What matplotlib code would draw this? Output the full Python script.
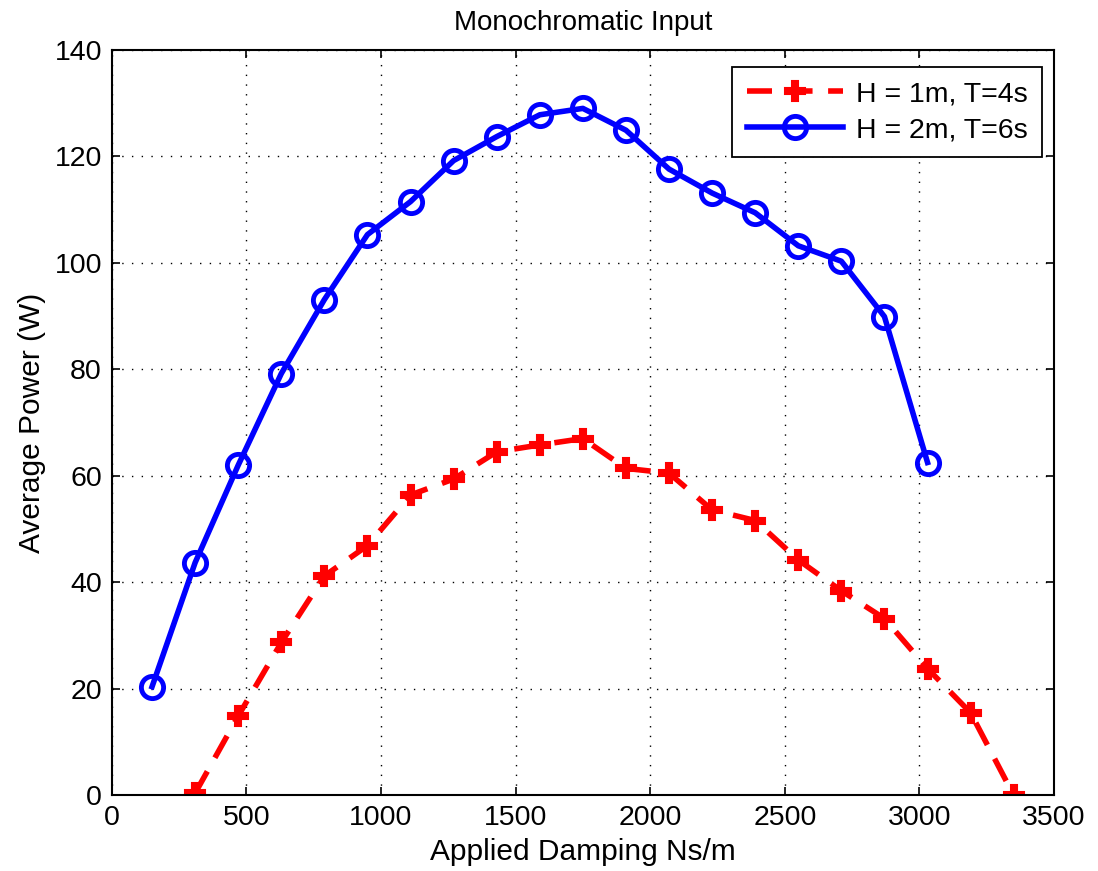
import matplotlib
matplotlib.use("Agg")
import matplotlib.pyplot as plt

plt.rcParams['font.family'] = ['Liberation Sans', 'DejaVu Sans']

# Data
damping_2m = [150, 310, 470, 630, 790, 950, 1110, 1270, 1430, 1590, 1750,
              1910, 2070, 2230, 2390, 2550, 2710, 2870, 3030]
power_2m = [20.4, 43.7, 62.0, 79.2, 93.1, 105.3, 111.5, 119.2, 123.7, 127.8, 129.0,
            124.9, 117.6, 113.1, 109.4, 103.2, 100.3, 89.9, 62.5]

damping_1m = [310, 470, 630, 790, 950, 1110, 1270, 1430, 1590, 1750,
              1910, 2070, 2230, 2390, 2550, 2710, 2870, 3030, 3190, 3350]
power_1m = [0.4, 14.9, 28.7, 41.2, 46.9, 56.4, 59.4, 64.5, 65.8, 67.0,
            61.4, 60.5, 53.6, 51.6, 44.2, 38.4, 33.2, 23.8, 15.5, 0.0]

labels = ['H = 1m, T=4s', 'H = 2m, T=6s']
x_ticks = [0, 500, 1000, 1500, 2000, 2500, 3000, 3500]
y_ticks = [0, 20, 40, 60, 80, 100, 120, 140]

fig = plt.figure(figsize=(10.98, 8.71), dpi=100)
ax = fig.add_axes([0.1017, 0.0869, 0.8583, 0.8559])

ax.plot(damping_1m, power_1m, color='#ff0000', linestyle=(0, (4.5, 2.8)), linewidth=4,
        marker='P', markersize=14, markeredgewidth=1.5, markeredgecolor='#ff0000',
        label=labels[0])
ax.plot(damping_2m, power_2m, color='#0000ff', linestyle='-', linewidth=4,
        marker='o', markersize=16, markerfacecolor='none', markeredgewidth=3.5,
        label=labels[1])

ax.set_xlim(0, 3500)
ax.set_ylim(0, 140)
ax.set_xticks(x_ticks)
ax.set_yticks(y_ticks)
ax.tick_params(direction='in', top=True, right=True, labelsize=20.5, length=6, width=1.2)
ax.tick_params(axis='x', pad=7)
ax.tick_params(axis='y', pad=7)
ax.grid(True, linestyle=(0, (1, 6)), color='black', linewidth=1.0)
for s in ax.spines.values():
    s.set_linewidth(1.5)

ax.set_xlabel('Applied Damping Ns/m', fontsize=21.5, labelpad=5)
ax.set_ylabel('Average Power (W)', fontsize=21.5, labelpad=6)
ax.set_title('Monochromatic Input', fontsize=20, pad=14)

leg = ax.legend(loc='upper right', bbox_to_anchor=(0.9873, 0.9772), borderaxespad=0,
                fontsize=20.5, fancybox=False, edgecolor='black',
                framealpha=1, handlelength=3.4, borderpad=0.5,
                labelspacing=0.35, handletextpad=0.45)
leg.get_frame().set_linewidth(1.3)

fig.savefig('out.png', dpi=100)
